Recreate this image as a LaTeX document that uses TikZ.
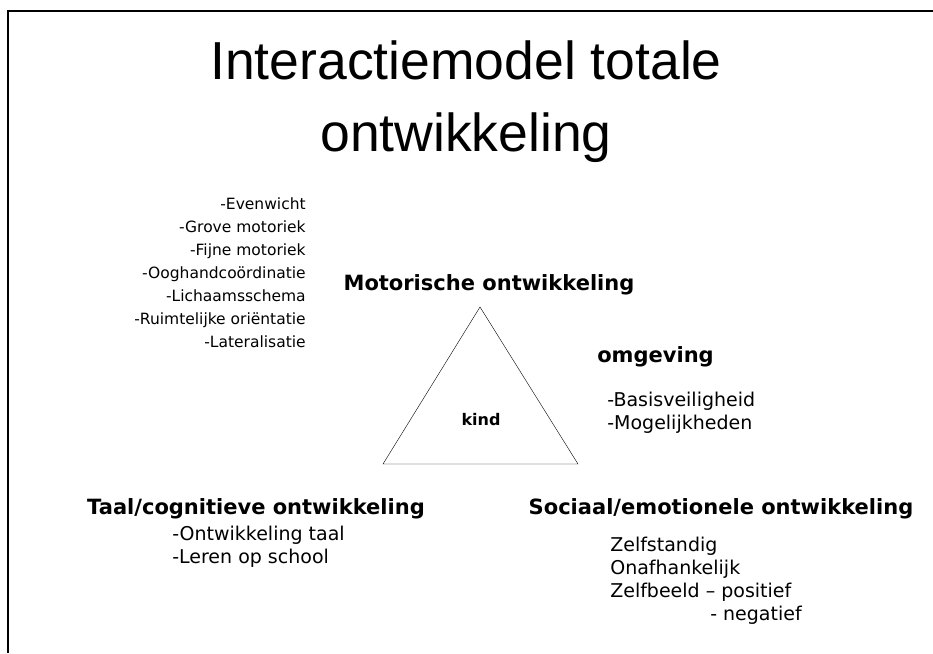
\documentclass[tikz,border=0pt]{standalone}
\usepackage{fontspec}
\setmainfont{DejaVu Sans}
\newfontfamily\titlefont{Liberation Sans}
\usetikzlibrary{positioning,calc}

\tikzset{
  head/.style={font=\bfseries\fontsize{21}{25}\selectfont, inner sep=0pt},
  items/.style={font=\fontsize{19}{23}\selectfont, inner sep=0pt},
  smallitems/.style={font=\fontsize{15.5}{23}\selectfont, inner sep=0pt}
}

\begin{document}
\begin{tikzpicture}[x=1pt,y=-1pt,semithick]
\useasboundingbox (0,0) rectangle (933,653);

% frame
\draw[line width=2.5pt] (8,653) -- (8,11) -- (933,11);

\node[font=\titlefont\fontsize{53.5}{72}\selectfont, align=center, inner sep=0pt] (title) at (466,102)
  {Interactiemodel totale\\ontwikkeling};

% triangle
\coordinate (top) at (480,307);
\coordinate (left) at (383,464);
\coordinate (right) at (578,464);
\draw[thin] (top) -- (left) -- (right) -- cycle;
\node[font=\bfseries\fontsize{16}{18}\selectfont] (kind) at (481,420) {kind};

% headings
\node[head] (motor) at (489,285) {Motorische ontwikkeling};
\node[head, anchor=west] (omg) at (597,357) {omgeving};
\node[head] (taal) at (256,509) {Taal/cognitieve ontwikkeling};
\node[head] (sociaal) at (721,509) {Sociaal/emotionele ontwikkeling};

% lists
\node[smallitems, align=right, anchor=north east] (motorlist) at (306,197)
  {-Evenwicht\\-Grove motoriek\\-Fijne motoriek\\-Ooghandcoördinatie\\-Lichaamsschema\\-Ruimtelijke oriëntatie\\-Lateralisatie};
\node[items, align=left, anchor=north west] (omglist) at (607,392)
  {-Basisveiligheid\\-Mogelijkheden};
\node[items, align=left, anchor=north west] (taallist) at (172,526)
  {-Ontwikkeling taal\\-Leren op school};
\node[items, align=left, anchor=north west] (sociaallist) at (610,537)
  {Zelfstandig\\Onafhankelijk\\Zelfbeeld – positief\\\hspace*{100pt}- negatief};

\end{tikzpicture}
\end{document}
